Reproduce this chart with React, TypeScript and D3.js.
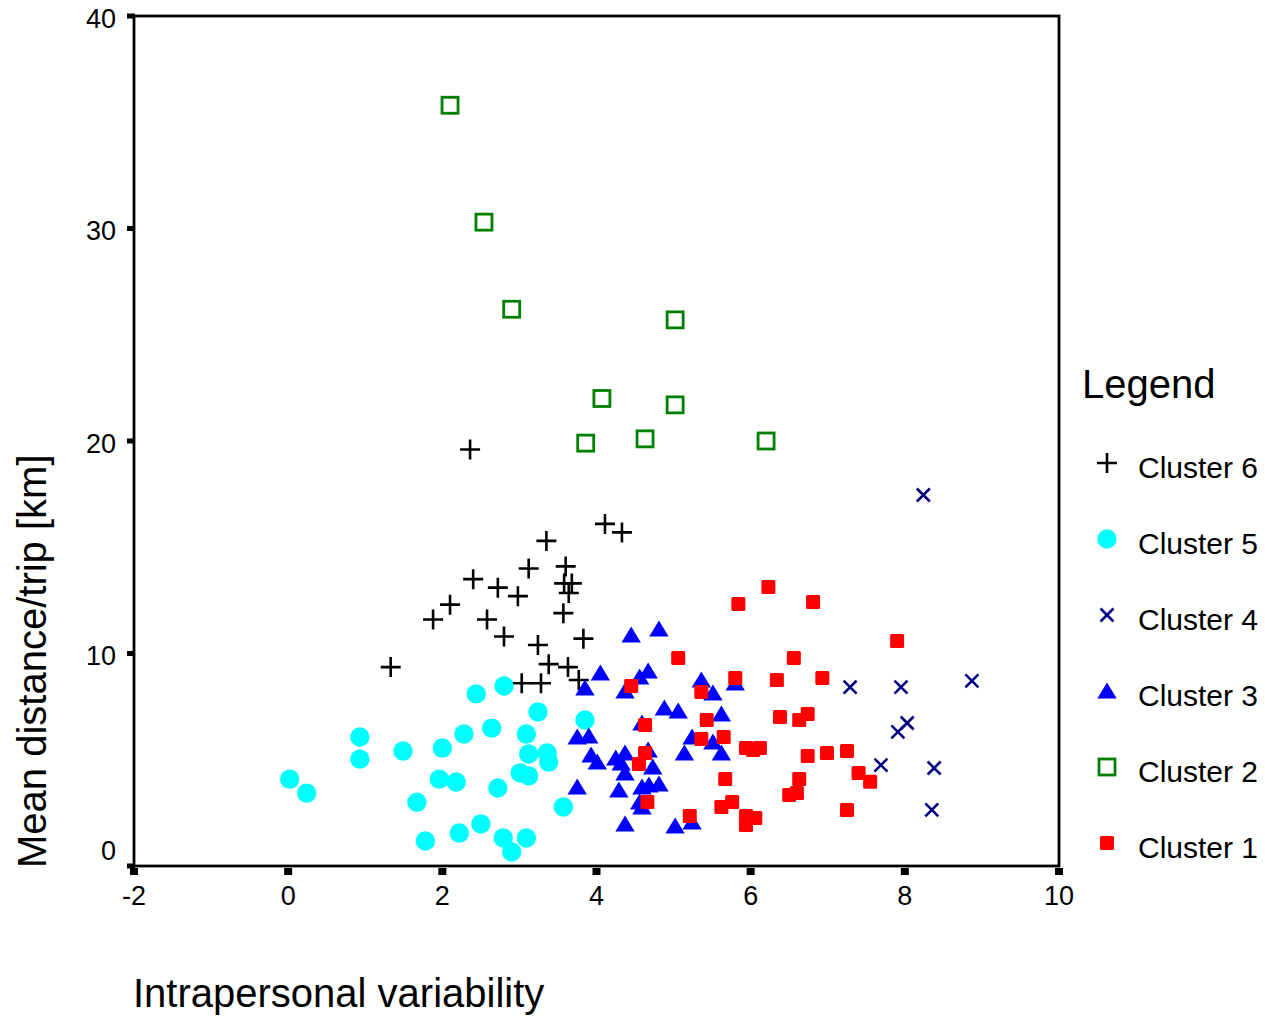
import * as d3 from "d3";

// cluster points: [intrapersonal variability, mean distance/trip km]
const cluster6 = [
  [2.36, 19.6], [4.11, 16.1], [4.33, 15.7], [3.35, 15.3], [3.12, 14.0], [3.6, 14.1],
  [2.4, 13.5], [2.72, 13.1], [2.98, 12.7], [3.58, 13.3], [3.68, 13.3], [3.64, 12.85],
  [2.1, 12.3], [1.88, 11.6], [2.58, 11.6], [3.57, 11.9], [2.8, 10.8], [3.83, 10.7],
  [3.24, 10.4], [1.33, 9.36], [3.38, 9.5], [3.63, 9.36], [3.03, 8.6], [3.28, 8.6],
  [3.77, 8.75],
];
const cluster5 = [
  [0.02, 4.09], [0.24, 3.43], [0.93, 6.07], [0.93, 5.03], [1.49, 5.41], [1.67, 3.0],
  [1.78, 1.18], [1.96, 4.09], [2.0, 5.55], [2.18, 3.95], [2.22, 1.55], [2.28, 6.21],
  [2.44, 8.1], [2.5, 1.98], [2.64, 6.49], [2.72, 3.67], [2.79, 1.32], [2.8, 8.47],
  [2.9, 0.66], [3.01, 4.38], [3.12, 4.24], [3.09, 6.21], [3.12, 5.27], [3.24, 7.25],
  [3.36, 5.32], [3.38, 4.89], [3.09, 1.32], [3.57, 2.78], [3.85, 6.87],
];
const cluster4 = [
  [8.24, 17.46], [7.29, 8.42], [7.95, 8.42], [8.87, 8.71], [8.03, 6.73], [7.91, 6.31],
  [7.69, 4.75], [8.38, 4.61], [8.35, 2.64],
];
const cluster3 = [
  [4.45, 10.87], [4.81, 11.15], [4.05, 9.08], [4.56, 8.89], [4.67, 9.18], [4.37, 8.24],
  [3.85, 8.38], [5.36, 8.75], [5.51, 8.14], [5.8, 8.61], [4.88, 7.44], [5.06, 7.3],
  [5.62, 7.15], [4.59, 6.73], [3.75, 6.07], [3.9, 6.12], [5.24, 6.07], [5.51, 5.84],
  [5.62, 5.32], [5.14, 5.32], [3.93, 5.22], [4.01, 4.89], [4.25, 5.08], [4.37, 5.32],
  [4.67, 5.46], [4.32, 4.85], [4.73, 4.66], [4.37, 4.38], [4.59, 3.72], [4.68, 3.81],
  [4.81, 3.86], [3.75, 3.72], [4.29, 3.58], [4.56, 3.01], [4.59, 2.78], [4.37, 1.98],
  [5.02, 1.88], [5.24, 2.07],
];
const cluster2 = [
  [2.1, 35.8], [2.54, 30.3], [2.9, 26.2], [5.02, 25.7], [4.07, 22.0], [5.02, 21.7],
  [3.86, 19.9], [4.63, 20.1], [6.2, 20.0],
];
const cluster1 = [
  [5.84, 12.33], [6.81, 12.42], [6.23, 13.13], [7.9, 10.59], [5.06, 9.79], [6.56, 9.79],
  [4.45, 8.47], [5.36, 8.19], [5.8, 8.85], [6.34, 8.75], [6.93, 8.85], [5.43, 6.87],
  [6.38, 7.01], [6.63, 6.87], [6.74, 7.15], [4.63, 6.64], [5.65, 6.07], [5.36, 5.98],
  [5.94, 5.55], [6.03, 5.46], [6.12, 5.55], [4.63, 5.32], [4.55, 4.8], [6.74, 5.18],
  [6.99, 5.32], [7.25, 5.41], [7.4, 4.38], [7.55, 3.97], [5.67, 4.09], [6.63, 4.09],
  [4.66, 3.01], [5.76, 3.01], [5.62, 2.78], [6.5, 3.34], [6.6, 3.43], [5.94, 2.35],
  [6.06, 2.26], [5.94, 1.93], [5.21, 2.35], [7.25, 2.64],
];

const xTicks = [-2, 0, 2, 4, 6, 8, 10];
const yTicks = [0, 10, 20, 30, 40];

const series = [
  { name: "Cluster 6", marker: "plus", color: "#000000", data: cluster6 },
  { name: "Cluster 5", marker: "circle", color: "#00ffff", data: cluster5 },
  { name: "Cluster 4", marker: "cross", color: "#000080", data: cluster4 },
  { name: "Cluster 3", marker: "triangle", color: "#0000ff", data: cluster3 },
  { name: "Cluster 2", marker: "openSquare", color: "#008000", data: cluster2 },
  { name: "Cluster 1", marker: "square", color: "#ff0000", data: cluster1 },
];

const font = "'Liberation Sans', Arial, sans-serif";

const Marker = ({ type, color, x, y }) => {
  const t = `translate(${x},${y})`;
  switch (type) {
    case "plus":
      return (
        <path transform={t} d="M-10,0H10M0,-10V10" stroke={color} strokeWidth={2.6} fill="none" />
      );
    case "circle":
      return <circle cx={x} cy={y} r={9.7} fill={color} />;
    case "cross":
      return (
        <path transform={t} d="M-6.5,-6.5L6.5,6.5M-6.5,6.5L6.5,-6.5" stroke={color} strokeWidth={2.6} fill="none" />
      );
    case "triangle":
      return <path transform={t} d="M0,-8.5L9.7,7.5L-9.7,7.5Z" fill={color} />;
    case "openSquare":
      return (
        <rect x={x - 8} y={y - 8} width={16} height={16} fill="none" stroke={color} strokeWidth={2.8} />
      );
    default:
      return <rect x={x - 7} y={y - 7} width={14} height={14} rx={1.5} fill={color} />;
  }
};

export default function App() {
  const x = d3.scaleLinear().domain([-2, 10]).range([134, 1059]);
  const y = d3.scaleLinear().domain([0, 40]).range([866, 16]);

  return (
    <svg
      width={1265}
      height={1016}
      style={{ position: "absolute", left: 0, top: 0, background: "#fff" }}
      fontFamily={font}
    >
      {series.map((s) => (
        <g key={s.name}>
          {s.data.map((d, i) => (
            <Marker key={i} type={s.marker} color={s.color} x={x(d[0])} y={y(d[1])} />
          ))}
        </g>
      ))}

      <rect x={134} y={16} width={925} height={850} fill="none" stroke="#000" strokeWidth={2.8} />

      {yTicks.map((t) => (
        <g key={t}>
          <rect x={127} y={y(t) - 2.5} width={8} height={5} fill="#000" />
          <text
            x={116}
            y={Math.min(y(t) + 2, 850)}
            dy="0.36em"
            textAnchor="end"
            fontSize={27}
            fill="#000"
          >
            {t}
          </text>
        </g>
      ))}
      {xTicks.map((t) => (
        <g key={t}>
          <rect x={x(t) - 4} y={868} width={8} height={7} fill="#000" />
          <text x={x(t)} y={905} textAnchor="middle" fontSize={27} fill="#000">
            {t}
          </text>
        </g>
      ))}

      <text
        transform="translate(46,868) rotate(-90)"
        fontSize={40}
        fill="#000"
      >
        Mean distance/trip [km]
      </text>
      <text x={133} y={1007} fontSize={40} fill="#000">
        Intrapersonal variability
      </text>

      <text x={1082} y={398} fontSize={40} fill="#000">
        Legend
      </text>
      {series.map((s, i) => (
        <g key={s.name}>
          <Marker type={s.marker} color={s.color} x={1107} y={463 + i * 76} />
          <text x={1138} y={478 + i * 76} fontSize={30} fill="#000">
            {s.name}
          </text>
        </g>
      ))}
    </svg>
  );
}
